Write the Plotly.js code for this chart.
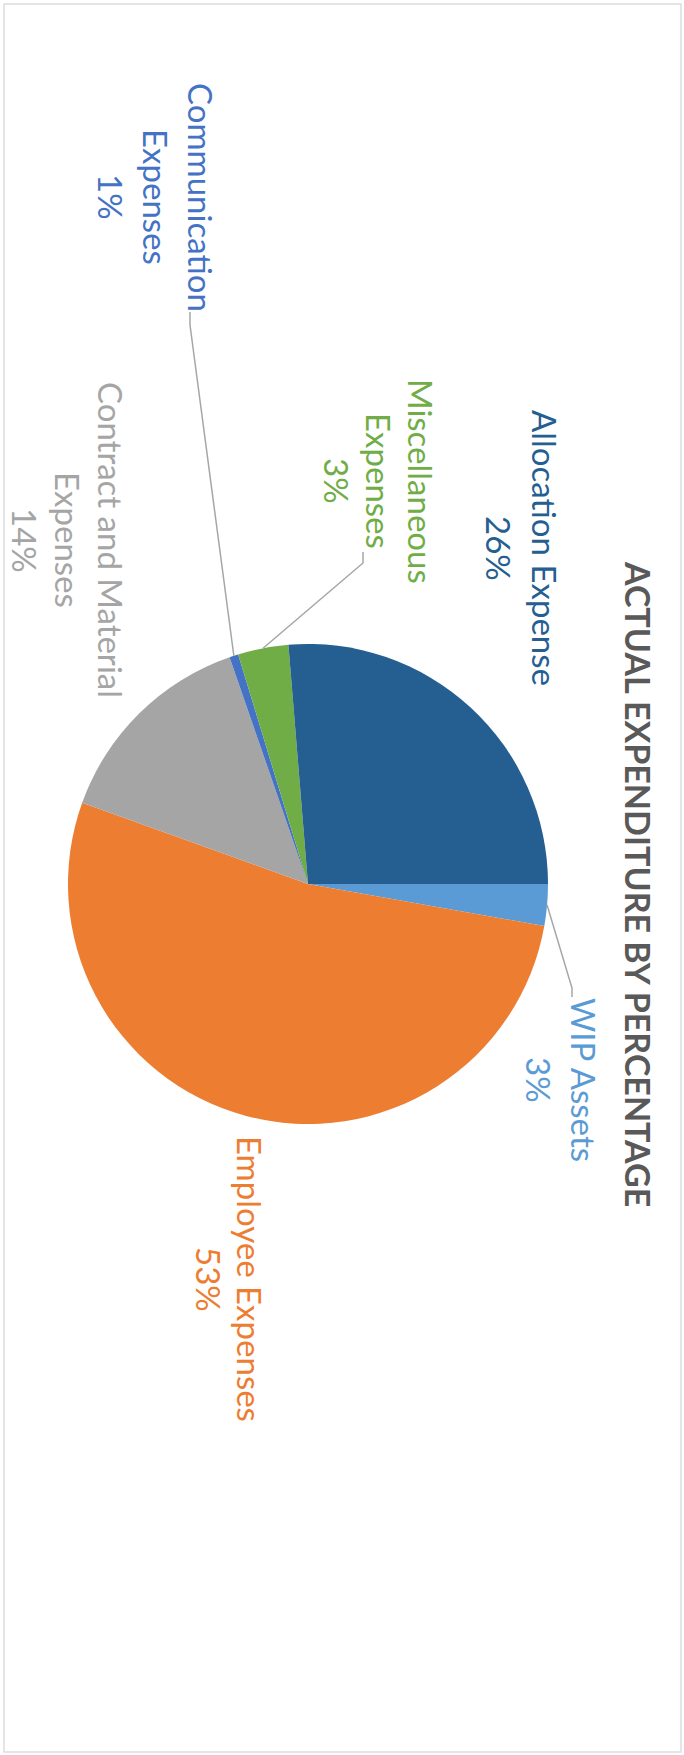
<!DOCTYPE html>
<html>
<head>
<meta charset="utf-8">
<script src="https://cdn.plot.ly/plotly-3.0.1.min.js"></script>
<style>
  html, body { margin: 0; padding: 0; background: #ffffff; overflow: hidden; }
  #wrap { width: 684px; height: 1755px; position: relative; overflow: hidden; }
  #chart {
    position: absolute; left: 0; top: 0;
    width: 1755px; height: 684px;
    transform-origin: 0 0;
    transform: translate(684px, 0) rotate(90deg);
  }
</style>
</head>
<body>
<div id="wrap"><div id="chart"></div></div>
<script>
// ---- data ----
const categories = ['WIP Assets', 'Employee Expenses', 'Contract and Material Expenses',
                    'Communication Expenses', 'Miscellaneous Expenses', 'Allocation Expense'];
const values = [2.8, 52.7, 14.2, 0.6, 3.4, 26.3];
const labelLines = [['WIP Assets'], ['Employee Expenses'], ['Contract and Material', 'Expenses'],
                    ['Communication', 'Expenses'], ['Miscellaneous', 'Expenses'], ['Allocation Expense']];
const titleText = 'ACTUAL EXPENDITURE BY PERCENTAGE';

// ---- styles / layout positions (original, un-rotated landscape frame 1755 x 684) ----
const colors = ['#5B9BD5', '#ED7D31', '#A5A5A5', '#4472C4', '#70AD47', '#255E91'];
const W = 1755, H = 684;
const pieCx = 884, pieCy = 376, pieR = 240;
const labelX = [1080, 1279, 540, 197, 481, 548];
const labelY0 = [100, 434, 573, 483, 263, 139];
const lineGap = [45, 41, 43, 45, 42, 46];
const leaderBend = [[988, 112], null, null, [325, 494], [563, 321], null];
const leaderEnd = [[997, 112], null, null, [312, 494], [552, 321], null];
const fontFam = 'Lato, "Open Sans", "Noto Sans", sans-serif';
const labelSize = 33;

const total = values.reduce((a, b) => a + b, 0);

const pie = {
  type: 'pie',
  labels: categories,
  values: values,
  sort: false,
  direction: 'clockwise',
  rotation: 0,
  marker: { colors: colors, line: { width: 0 } },
  textinfo: 'none',
  hoverinfo: 'label+percent',
  showlegend: false,
  domain: {
    x: [(pieCx - pieR) / W, (pieCx + pieR) / W],
    y: [(H - pieCy - pieR) / H, (H - pieCy + pieR) / H]
  }
};

const annotations = [];
const shapes = [];

annotations.push({
  xref: 'x', yref: 'y', x: pieCx, y: 45, text: titleText, showarrow: false,
  xanchor: 'center', yanchor: 'middle',
  font: { family: fontFam, size: 34, color: '#595959', weight: 'bold' }
});

let cum = 0;
values.forEach((v, i) => {
  const pct = Math.round(v / total * 100) + '%';
  const lines = labelLines[i].concat([pct]);
  lines.forEach((t, k) => {
    annotations.push({
      xref: 'x', yref: 'y', x: labelX[i], y: labelY0[i] + k * lineGap[i],
      text: t, showarrow: false, xanchor: 'center', yanchor: 'middle',
      font: { family: fontFam, size: labelSize, color: colors[i] }
    });
  });
  const theta = 2 * Math.PI * (cum + v / 2) / total;
  cum += v;
  if (leaderBend[i]) {
    const sx = pieCx + pieR * Math.sin(theta);
    const sy = pieCy - pieR * Math.cos(theta);
    shapes.push({
      type: 'path', xref: 'x', yref: 'y',
      path: 'M ' + sx + ',' + sy + ' L ' + leaderBend[i][0] + ',' + leaderBend[i][1] +
            ' L ' + leaderEnd[i][0] + ',' + leaderEnd[i][1],
      line: { color: '#A6A6A6', width: 1.5 }
    });
  }
});

shapes.push({
  type: 'rect', xref: 'x', yref: 'y', x0: 4, x1: W - 3, y0: 3, y1: H - 4,
  line: { color: '#DDDDDD', width: 1.5 }, fillcolor: 'rgba(0,0,0,0)'
});

const layout = {
  width: W, height: H,
  margin: { l: 0, r: 0, t: 0, b: 0 },
  paper_bgcolor: '#ffffff', plot_bgcolor: 'rgba(0,0,0,0)',
  xaxis: { range: [0, W], visible: false, fixedrange: true, domain: [0, 1] },
  yaxis: { range: [H, 0], visible: false, fixedrange: true, domain: [0, 1] },
  annotations: annotations,
  shapes: shapes
};

Plotly.newPlot('chart', [pie], layout, { staticPlot: true, displayModeBar: false });
</script>
</body>
</html>
